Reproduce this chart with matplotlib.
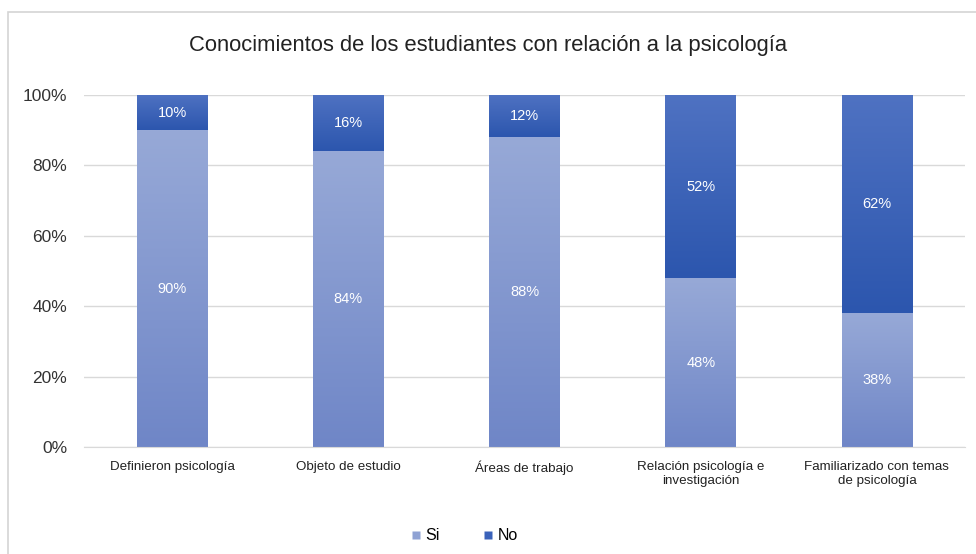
import matplotlib
matplotlib.use("Agg")
import matplotlib.pyplot as plt
import numpy as np
from matplotlib.colors import LinearSegmentedColormap
from matplotlib.patches import Rectangle

plt.rcParams['font.family'] = ['Liberation Sans', 'DejaVu Sans']

categories = ["Definieron psicología", "Objeto de estudio", "Áreas de trabajo",
              "Relación psicología e\ninvestigación", "Familiarizado con temas\nde psicología"]
si_values = [90, 84, 88, 48, 38]
no_values = [10, 16, 12, 52, 62]
series_names = ["Si", "No"]
yticks = [0, 20, 40, 60, 80, 100]

si_top, si_bottom = "#97a9d7", "#6f86c7"
no_top, no_bottom = "#4f72c2", "#2c56ae"

fig = plt.figure(figsize=(9.76, 5.54), dpi=100)
# outer chart frame
fig.patches.append(Rectangle((8 / 976, -0.05), 1.1, 1 - 12 / 554 + 0.05,
                             transform=fig.transFigure, fill=False,
                             edgecolor="#d4d4d4", linewidth=1.2))

ax = fig.add_axes([84 / 976, 1 - 447 / 554, (965 - 84) / 976, (447 - 95) / 554])
x = np.arange(len(categories))
width = 0.4


def gradient_bar(ax, xc, bottom, height, top_color, bottom_color):
    bars = ax.bar(xc, height, width, bottom=bottom, color="none", edgecolor="none", zorder=2)
    rect = bars[0]
    cmap = LinearSegmentedColormap.from_list("g", [bottom_color, top_color])
    grad = np.linspace(0, 1, 256).reshape(-1, 1)
    im = ax.imshow(grad, cmap=cmap, aspect="auto", origin="lower",
                   extent=(xc - width / 2, xc + width / 2, bottom, bottom + height),
                   zorder=2)
    im.set_clip_path(rect)
    return rect


for i in range(len(categories)):
    gradient_bar(ax, x[i], 0, si_values[i], si_top, si_bottom)
    gradient_bar(ax, x[i], si_values[i], no_values[i], no_top, no_bottom)
    ax.text(x[i], si_values[i] / 2, f"{si_values[i]}%", ha="center", va="center",
            color="white", fontsize=10.5, zorder=3)
    ax.text(x[i], si_values[i] + no_values[i] / 2, f"{no_values[i]}%", ha="center",
            va="center", color="white", fontsize=10.5, zorder=3)

ax.set_xlim(-0.5, len(categories) - 0.5)
ax.set_ylim(0, 100)
ax.set_yticks(yticks)
ax.set_yticklabels([f"{t}%" for t in yticks], fontsize=12.5, color="#333333")
ax.set_xticks(x)
ax.set_xticklabels(categories, fontsize=9.6, color="#222222", linespacing=1.25)
ax.tick_params(axis="both", length=0)
ax.tick_params(axis="y", pad=12)
ax.tick_params(axis="x", pad=10)
ax.grid(axis="y", color="#d9d9d9", linewidth=1.0, zorder=0)
ax.set_axisbelow(True)
for s in ["top", "right", "left"]:
    ax.spines[s].set_visible(False)
ax.spines["bottom"].set_color("#d9d9d9")

fig.text(488 / 976, 1 - 45 / 554, "Conocimientos de los estudiantes con relación a la psicología",
         ha="center", va="center", fontsize=15.8, color="#222222")

handles = [plt.Line2D([], [], marker="s", linestyle="none", markersize=6,
                      markerfacecolor=c, markeredgecolor="none")
           for c in ["#8fa2d4", "#3a62ba"]]
fig.legend(handles, series_names, loc="center", bbox_to_anchor=(463 / 976, 1 - 536 / 554),
           ncol=2, frameon=False, fontsize=11.5, handletextpad=0.1, columnspacing=2.5,
           handlelength=1.0)

fig.savefig("out.png", dpi=100)
